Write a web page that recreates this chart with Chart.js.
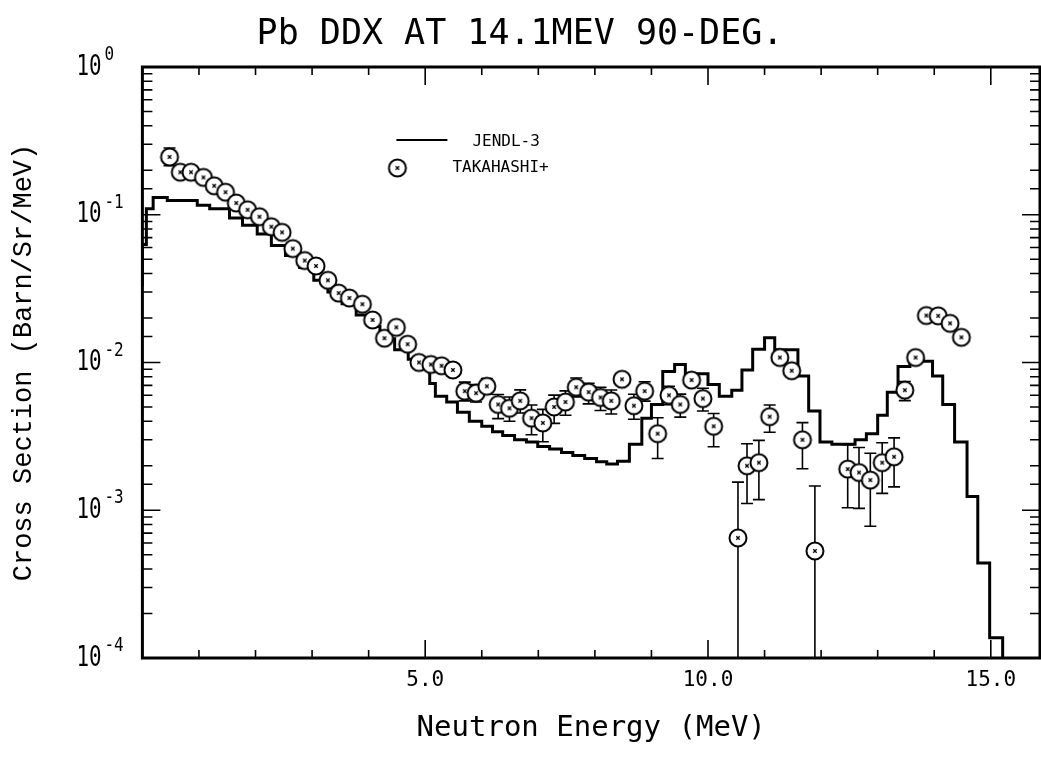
<!DOCTYPE html>
<html>
<head>
<meta charset="utf-8">
<title>Pb DDX AT 14.1MEV 90-DEG.</title>
<script src="https://cdn.jsdelivr.net/npm/chart.js@4.4.0/dist/chart.umd.min.js"></script>
<style>
  html, body { margin: 0; padding: 0; background: #fff; }
  #ddx { display: block; }
</style>
</head>
<body>
<canvas id="ddx" width="1041" height="760"></canvas>
<script>
// JENDL-3 evaluation: lower bin edge (MeV) and bin value (b/sr/MeV)
const jendlE = [0.00, 0.07, 0.19, 0.44, 0.97, 1.19, 1.54, 1.77, 2.03, 2.28,
                2.53, 2.78, 3.03, 3.28, 3.53, 3.78, 4.03, 4.20, 4.46, 4.70,
                4.95, 5.08, 5.18, 5.38, 5.57, 5.78, 6.00, 6.19, 6.37, 6.58,
                6.79, 6.99, 7.20, 7.41, 7.61, 7.82, 8.03, 8.21, 8.40, 8.61,
                8.83, 9.00, 9.20, 9.41, 9.60, 10.00, 10.20, 10.42, 10.60, 10.79,
                11.00, 11.18, 11.59, 11.78, 11.98, 12.19, 12.38, 12.60, 12.80, 13.00,
                13.17, 13.36, 13.57, 13.80, 13.97, 14.15, 14.36, 14.58, 14.77, 14.98,
                15.21, 15.43];
const jendlV = [0.033, 0.063, 0.110, 0.131, 0.125, 0.116, 0.110, 0.095, 0.085, 0.074,
                0.062, 0.053, 0.044, 0.036, 0.030, 0.025, 0.021, 0.0175, 0.0145, 0.0122,
                0.0105, 0.0091, 0.0072, 0.0059, 0.0054, 0.0046, 0.0040, 0.0037, 0.0034, 0.0032,
                0.0030, 0.0029, 0.0027, 0.0026, 0.00246, 0.00235, 0.00224, 0.00213, 0.00206, 0.00215,
                0.0028, 0.0042, 0.0052, 0.0087, 0.0097, 0.0084, 0.0071, 0.0059, 0.0065, 0.0089,
                0.0123, 0.0147, 0.0122, 0.0081, 0.0047, 0.0029, 0.0028, 0.0028, 0.0030, 0.0033,
                0.0044, 0.0063, 0.0094, 0.0106, 0.0102, 0.0081, 0.0052, 0.0029, 0.00124, 0.00044,
                0.000137, 0.00001];

// TAKAHASHI+ measurement
const expE = [0.48, 0.67, 0.86, 1.08, 1.27, 1.47, 1.66, 1.86, 2.07, 2.28,
              2.47, 2.66, 2.87, 3.07, 3.28, 3.47, 3.66, 3.89, 4.07, 4.28,
              4.49, 4.69, 4.89, 5.10, 5.29, 5.49, 5.70, 5.90, 6.09, 6.29,
              6.49, 6.68, 6.88, 7.08, 7.28, 7.48, 7.67, 7.89, 8.10, 8.29,
              8.48, 8.69, 8.88, 9.11, 9.31, 9.51, 9.71, 9.91, 10.10, 10.53,
              10.69, 10.90, 11.09, 11.27, 11.48, 11.67, 11.89, 12.47, 12.67, 12.87,
              13.08, 13.29, 13.48, 13.67, 13.86, 14.07, 14.28, 14.48];
const expV = [0.246, 0.194, 0.194, 0.179, 0.157, 0.142, 0.120, 0.108, 0.097, 0.083,
              0.076, 0.059, 0.049, 0.045, 0.036, 0.0295, 0.0273, 0.0248, 0.0194, 0.0146,
              0.0173, 0.0133, 0.0100, 0.0097, 0.0095, 0.0089, 0.0064, 0.0062, 0.0069, 0.0052,
              0.0049, 0.0055, 0.0042, 0.0039, 0.0050, 0.0054, 0.0068, 0.0063, 0.0058, 0.0055,
              0.0077, 0.0051, 0.0064, 0.0033, 0.0060, 0.0052, 0.0076, 0.0057, 0.0037, 0.00065,
              0.0020, 0.0021, 0.0043, 0.0108, 0.0088, 0.0030, 0.00053, 0.0019, 0.0018, 0.0016,
              0.0021, 0.0023, 0.0065, 0.0108, 0.0208, 0.0207, 0.0184, 0.0148];
// error bar ends (null where the bar stays inside the symbol)
const errHi = [0.283, null, null, null, null, null, null, null, null, null,
               null, null, null, null, null, null, null, null, null, null,
               null, null, null, null, null, null, 0.00736, 0.0071, 0.0078, 0.00607,
               0.00584, 0.00653, 0.00516, 0.00482, 0.00601, 0.00643, 0.00785, 0.00724, 0.00679, 0.00652,
               null, 0.0061, 0.00741, 0.00423, 0.0069, 0.00611, null, 0.00669, 0.00452, 0.00155,
               0.00282, 0.00297, 0.00516, null, null, 0.00392, 0.00146, 0.00278, 0.00266, 0.00243,
               0.00286, 0.00309, 0.00743, null, null, null, null, null];
const errLo = [0.215, null, null, null, null, null, null, null, null, null,
               null, null, null, null, null, null, null, null, null, null,
               null, null, null, null, null, null, 0.0055, 0.0054, 0.0061, 0.00417,
               0.0040, 0.00455, 0.00324, 0.00291, 0.00387, 0.0044, 0.00585, 0.00525, 0.00473, 0.00448,
               null, 0.00413, 0.00548, 0.00224, 0.00519, 0.00427, null, 0.0047, 0.00269, 0.00001,
               0.00111, 0.00118, 0.00337, null, null, 0.00191, 0.00001, 0.00104, 0.00103, 0.00078,
               0.0013, 0.00144, 0.00552, null, null, null, null, null];

// tick labels
const xLabelValues = [5, 10, 15];
const yLabelExps = [0, -1, -2, -3, -4];

const isDecade = v => Math.abs(Math.log10(v) - Math.round(Math.log10(v))) < 1e-6;

// circle with a small cross, used for the measured points
function makeMarker() {
    const c = document.createElement('canvas');
    c.width = 22; c.height = 22;
    const g = c.getContext('2d');
    g.fillStyle = '#fff';
    g.strokeStyle = '#000';
    g.lineWidth = 2;
    g.beginPath();
    g.arc(11, 11, 8.5, 0, Math.PI * 2);
    g.fill();
    g.stroke();
    g.lineWidth = 1.3;
    g.beginPath();
    g.moveTo(9.3, 9.3); g.lineTo(12.7, 12.7);
    g.moveTo(12.7, 9.3); g.lineTo(9.3, 12.7);
    g.stroke();
    return c;
}
const marker = makeMarker();

const errorBars = {
    id: 'errorBars',
    beforeDatasetsDraw(chart) {
        const { ctx, chartArea: a, scales: { x, y } } = chart;
        ctx.save();
        ctx.beginPath();
        ctx.rect(a.left, a.top, a.width, a.height);
        ctx.clip();
        ctx.strokeStyle = '#000';
        ctx.lineWidth = 1.6;
        ctx.beginPath();
        expE.forEach((e, i) => {
            if (errHi[i] == null) return;
            const px = x.getPixelForValue(e);
            const top = y.getPixelForValue(errHi[i]);
            const bot = y.getPixelForValue(errLo[i]);
            ctx.moveTo(px, top); ctx.lineTo(px, bot);
            ctx.moveTo(px - 6, top); ctx.lineTo(px + 6, top);
            ctx.moveTo(px - 6, bot); ctx.lineTo(px + 6, bot);
        });
        ctx.stroke();
        ctx.restore();
    }
};

// frame, inward ticks on all four sides, and the 10^n labels
const frameTicks = {
    id: 'frameTicks',
    afterDatasetsDraw(chart) {
        const { ctx, chartArea: a, scales: { x, y } } = chart;
        ctx.save();
        ctx.strokeStyle = '#000';
        ctx.lineWidth = 1.6;
        ctx.beginPath();
        x.ticks.forEach(t => {
            if (t.value <= x.min || t.value >= x.max) return;
            const px = x.getPixelForValue(t.value);
            const len = xLabelValues.includes(t.value) ? 18 : 8;
            ctx.moveTo(px, a.bottom); ctx.lineTo(px, a.bottom - len);
            ctx.moveTo(px, a.top); ctx.lineTo(px, a.top + len);
        });
        y.ticks.forEach(t => {
            if (t.value <= y.min || t.value >= y.max) return;
            const py = y.getPixelForValue(t.value);
            const len = isDecade(t.value) ? 18 : 10;
            ctx.moveTo(a.left, py); ctx.lineTo(a.left + len, py);
            ctx.moveTo(a.right, py); ctx.lineTo(a.right - len, py);
        });
        ctx.stroke();
        ctx.lineWidth = 3;
        ctx.strokeRect(a.left, a.top, a.width, a.height);

        ctx.fillStyle = '#000';
        ctx.textAlign = 'left';
        ctx.textBaseline = 'middle';
        yLabelExps.forEach(n => {
            const py = y.getPixelForValue(Math.pow(10, n));
            const lx = a.left - 66;
            ctx.font = '29px "DejaVu Sans Mono"';
            ctx.save();
            ctx.translate(lx, py);
            ctx.scale(0.72, 1);
            ctx.fillText('10', 0, 0);
            ctx.restore();
            ctx.font = '20px "DejaVu Sans Mono"';
            ctx.save();
            ctx.translate(lx + 28, py - 12);
            ctx.scale(0.8, 1);
            ctx.fillText(String(n), 0, 0);
            ctx.restore();
        });
        ctx.restore();
    }
};

const legendBox = {
    id: 'legendBox',
    afterDraw(chart) {
        const { ctx, chartArea: a } = chart;
        const x0 = a.left + 254, y0 = a.top + 73;
        ctx.save();
        ctx.strokeStyle = '#000';
        ctx.lineWidth = 2;
        ctx.beginPath();
        ctx.moveTo(x0, y0); ctx.lineTo(x0 + 51, y0);
        ctx.stroke();
        ctx.drawImage(marker, x0 - 10, y0 + 17);
        ctx.fillStyle = '#000';
        ctx.font = '16px "DejaVu Sans Mono"';
        ctx.textBaseline = 'middle';
        ctx.fillText('JENDL-3', x0 + 76, y0 + 2);
        ctx.fillText('TAKAHASHI+', x0 + 56, y0 + 28);
        ctx.restore();
    }
};

new Chart(document.getElementById('ddx'), {
    type: 'scatter',
    data: {
        datasets: [
            {
                label: 'TAKAHASHI+',
                data: expE.map((e, i) => ({ x: e, y: expV[i] })),
                pointStyle: marker,
                pointRadius: 9,
                showLine: false,
                order: 0
            },
            {
                type: 'line',
                label: 'JENDL-3',
                data: jendlE.map((e, i) => ({ x: e, y: jendlV[i] })),
                stepped: 'after',
                borderColor: '#000',
                borderWidth: 3,
                pointRadius: 0,
                fill: false,
                order: 1
            }
        ]
    },
    options: {
        responsive: false,
        animation: false,
        layout: { autoPadding: false, padding: { left: 0, right: 1, top: 0, bottom: 0 } },
        plugins: {
            legend: { display: false },
            tooltip: { enabled: false },
            title: {
                display: true,
                text: 'Pb DDX AT 14.1MEV 90-DEG.',
                color: '#000',
                font: { family: 'DejaVu Sans Mono', size: 35, weight: 'normal' },
                padding: { top: 14, bottom: 11 }
            }
        },
        scales: {
            x: {
                type: 'linear',
                min: 0,
                max: 15.87,
                grid: { display: false, drawTicks: false },
                border: { display: false },
                ticks: {
                    stepSize: 1,
                    includeBounds: false,
                    autoSkip: false,
                    maxRotation: 0,
                    color: '#000',
                    padding: 10,
                    font: { family: 'DejaVu Sans Mono', size: 21 },
                    callback: v => xLabelValues.includes(v) ? v.toFixed(1) : ''
                },
                title: {
                    display: true,
                    text: 'Neutron Energy (MeV)',
                    color: '#000',
                    font: { family: 'DejaVu Sans Mono', size: 29 },
                    padding: { top: 8, bottom: 14 }
                }
            },
            y: {
                type: 'logarithmic',
                min: 1e-4,
                max: 1,
                grid: { display: false, drawTicks: false },
                border: { display: false },
                ticks: { display: false },
                title: {
                    display: true,
                    text: 'Cross Section (Barn/Sr/MeV)',
                    color: '#000',
                    font: { family: 'Liberation Mono', size: 27 },
                    padding: { top: 8, bottom: 102 }
                }
            }
        }
    },
    plugins: [errorBars, frameTicks, legendBox]
});
</script>
</body>
</html>
